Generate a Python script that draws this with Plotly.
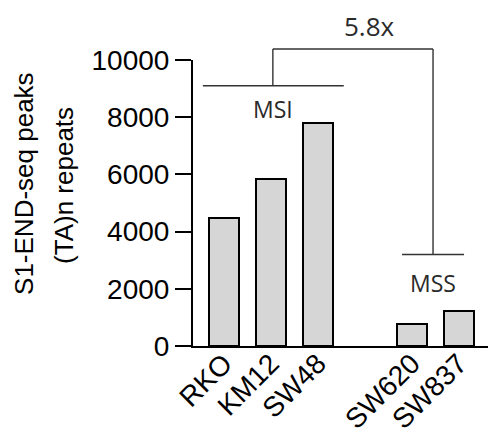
import plotly.graph_objects as go

# Data
cell_lines = ["RKO", "KM12", "SW48", "SW620", "SW837"]
positions = [0, 1, 2, 4, 5]
peaks = [4480, 5850, 7780, 760, 1230]
groups = ["MSI", "MSI", "MSI", "MSS", "MSS"]
fold_label = "5.8x"
y_ticks = [0, 2000, 4000, 6000, 8000, 10000]
y_ticktext = ["0", "2000", "4000", "6000", "8000", "10000"]
title_lines = ["S1-END-seq peaks", "(TA)n repeats"]

X_RANGE = [-0.66, 5.62]
Y_RANGE = [0, 10000]

def px(x):
    return (x - X_RANGE[0]) / (X_RANGE[1] - X_RANGE[0])

def py(y):
    return (y - Y_RANGE[0]) / (Y_RANGE[1] - Y_RANGE[0])

fig = go.Figure()
fig.add_trace(go.Bar(
    x=positions, y=peaks, width=0.64,
    marker=dict(color="#d6d6d6", line=dict(color="#000000", width=2)),
    showlegend=False,
))

msi_pos = [p for p, g in zip(positions, groups) if g == "MSI"]
mss_pos = [p for p, g in zip(positions, groups) if g == "MSS"]
msi_c = sum(msi_pos) / len(msi_pos)
mss_c = sum(mss_pos) / len(mss_pos) - 0.05

line_col = "#333333"
lw = 1.4
msi_y = 9100
mss_y = 3200
top_y = 10385
shapes = [
    dict(type="line", xref="paper", yref="paper", x0=px(msi_c - 1.45), x1=px(msi_c + 1.55), y0=py(msi_y), y1=py(msi_y), line=dict(color=line_col, width=lw)),
    dict(type="line", xref="paper", yref="paper", x0=px(msi_c + 0.04), x1=px(msi_c + 0.04), y0=py(msi_y), y1=py(top_y), line=dict(color=line_col, width=lw)),
    dict(type="line", xref="paper", yref="paper", x0=px(msi_c + 0.04), x1=px(mss_c), y0=py(top_y), y1=py(top_y), line=dict(color=line_col, width=lw)),
    dict(type="line", xref="paper", yref="paper", x0=px(mss_c), x1=px(mss_c), y0=py(top_y), y1=py(mss_y), line=dict(color=line_col, width=lw)),
    dict(type="line", xref="paper", yref="paper", x0=px(mss_c - 0.66), x1=px(mss_c + 0.66), y0=py(mss_y), y1=py(mss_y), line=dict(color=line_col, width=lw)),
]

ann_font = dict(family="Open Sans", size=23, color="#2a2a2a")
title_font = dict(family="Liberation Sans, Arial", size=26, color="#000000")
annotations = [
    dict(text="MSI", xref="paper", yref="paper", x=px(msi_c + 0.05), y=py(8300), showarrow=False, font=ann_font, xanchor="center", yanchor="middle"),
    dict(text="MSS", xref="paper", yref="paper", x=px(mss_c), y=py(2200), showarrow=False, font=ann_font, xanchor="center", yanchor="middle"),
    dict(text=fold_label, xref="paper", yref="paper", x=px(3.1), y=py(11200), showarrow=False, font=dict(family="Open Sans", size=26, color="#2a2a2a"), xanchor="center", yanchor="middle"),
    dict(text=title_lines[0], xref="paper", yref="paper", x=-0.573, y=0.57, textangle=-90, showarrow=False, font=title_font, xanchor="center", yanchor="middle"),
    dict(text=title_lines[1], xref="paper", yref="paper", x=-0.437, y=0.56, textangle=-90, showarrow=False, font=title_font, xanchor="center", yanchor="middle"),
]

fig.update_layout(
    width=488, height=438,
    margin=dict(l=193, r=0, t=60, b=92),
    paper_bgcolor="white", plot_bgcolor="white",
    font=dict(family="Liberation Sans, Arial", color="#000000"),
    shapes=shapes, annotations=annotations,
    bargap=0,
)
fig.update_xaxes(
    range=X_RANGE, tickvals=positions, ticktext=cell_lines, tickangle=-45,
    tickfont=dict(size=28), showline=True, linecolor="#000000", linewidth=2,
    ticks="", showgrid=False, zeroline=False, automargin=False,
    ticklabelstandoff=-12,
)
fig.update_yaxes(
    range=Y_RANGE, tickvals=y_ticks, ticktext=y_ticktext, tickfont=dict(size=28),
    showline=True, linecolor="#000000", linewidth=2, ticks="outside", ticklen=16, tickwidth=2,
    tickcolor="#000000", showgrid=False, zeroline=False,
    automargin=False,
)

fig.write_html("out.html")
